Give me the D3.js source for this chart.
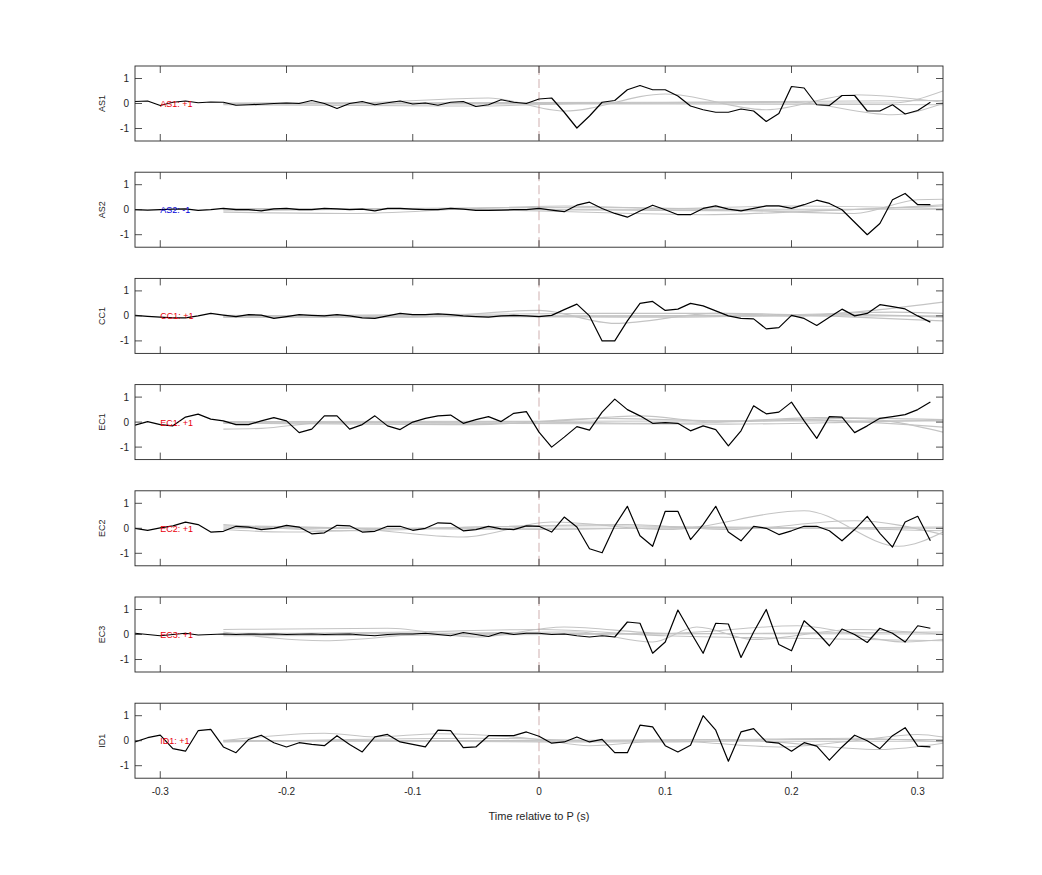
<!DOCTYPE html>
<html>
<head>
<meta charset="utf-8">
<script src="https://cdn.jsdelivr.net/npm/d3@7"></script>
<style>
html,body{margin:0;padding:0;background:#fff;}
svg{display:block;font-family:"Liberation Sans",Arial,Helvetica,sans-serif;}
</style>
</head>
<body>
<svg id="chart" width="1042" height="875"></svg>
<script>
// ---------- DATA ----------
const channels = ["AS1","AS2","CC1","EC1","EC2","EC3","ID1"];
const polarityLabels = ["AS1: +1","AS2: -1","CC1: +1","EC1: +1","EC2: +1","EC3: +1","ID1: +1"];
const polarityColors = ["#e8000b","#0000d8","#e8000b","#e8000b","#e8000b","#e8000b","#e8000b"];

const times = [-0.32,-0.31,-0.30,-0.29,-0.28,-0.27,-0.26,-0.25,-0.24,-0.23,-0.22,-0.21,-0.20,-0.19,-0.18,-0.17,
  -0.16,-0.15,-0.14,-0.13,-0.12,-0.11,-0.10,-0.09,-0.08,-0.07,-0.06,-0.05,-0.04,-0.03,-0.02,-0.01,
  0.00,0.01,0.02,0.03,0.04,0.05,0.06,0.07,0.08,0.09,0.10,0.11,0.12,0.13,0.14,0.15,
  0.16,0.17,0.18,0.19,0.20,0.21,0.22,0.23,0.24,0.25,0.26,0.27,0.28,0.29,0.30,0.31];

const traceAS1 = [0.08,0.10,-0.08,0.05,0.10,0.03,0.06,0.05,-0.07,-0.05,-0.03,0.00,0.02,0.00,0.12,0.00,
  -0.20,0.00,0.08,-0.05,0.03,0.10,-0.02,0.02,-0.07,0.05,0.08,-0.12,-0.05,0.15,0.05,0.00,
  0.18,0.22,-0.35,-0.98,-0.50,0.05,0.12,0.55,0.72,0.55,0.55,0.30,-0.10,-0.25,-0.35,-0.35,
  -0.22,-0.30,-0.72,-0.40,0.68,0.62,-0.05,-0.08,0.32,0.32,-0.30,-0.30,-0.05,-0.42,-0.28,0.05];
const traceAS2 = [0.00,-0.02,0.00,0.02,0.03,-0.03,0.00,0.05,0.00,0.00,-0.05,0.03,0.05,0.00,0.00,0.05,
  0.03,0.00,0.02,-0.05,0.05,0.05,0.02,0.00,0.00,0.05,0.02,-0.03,-0.03,-0.02,0.00,0.00,
  0.05,-0.02,-0.08,0.18,0.30,0.05,-0.15,-0.30,-0.05,0.18,0.00,-0.20,-0.20,0.05,0.15,0.02,
  -0.05,0.05,0.15,0.15,0.05,0.20,0.38,0.25,0.00,-0.50,-1.00,-0.55,0.40,0.65,0.20,0.20];
const traceCC1 = [0.02,-0.02,-0.05,-0.08,-0.08,0.00,0.10,0.03,-0.03,0.05,0.03,-0.10,-0.03,0.05,0.02,0.00,
  0.05,0.00,-0.08,-0.10,0.00,0.10,0.05,0.05,0.08,0.05,0.00,-0.03,-0.05,0.00,0.02,0.00,
  -0.03,0.02,0.25,0.47,0.00,-1.00,-1.00,-0.20,0.50,0.58,0.22,0.27,0.50,0.40,0.20,0.00,
  -0.10,-0.12,-0.52,-0.47,0.02,-0.10,-0.38,-0.05,0.27,0.00,0.10,0.45,0.37,0.28,0.00,-0.25];
const traceEC1 = [-0.12,0.02,-0.10,-0.15,0.20,0.32,0.12,0.05,-0.10,-0.10,0.05,0.18,0.05,-0.42,-0.28,0.25,
  0.25,-0.28,-0.10,0.25,-0.15,-0.30,0.00,0.15,0.25,0.28,-0.05,0.10,0.22,0.02,0.35,0.42,
  -0.40,-1.00,-0.60,-0.18,-0.32,0.40,0.92,0.50,0.25,-0.05,-0.02,-0.05,-0.35,-0.15,-0.30,-0.95,
  -0.35,0.65,0.33,0.40,0.80,0.05,-0.65,0.22,0.20,-0.42,-0.15,0.15,0.22,0.30,0.50,0.80];
const traceEC2 = [0.00,-0.08,0.02,0.10,0.25,0.15,-0.15,-0.12,0.08,0.05,-0.05,0.00,0.12,0.05,-0.22,-0.18,
  0.12,0.10,-0.15,-0.12,0.08,0.08,-0.08,0.00,0.22,0.20,-0.10,-0.05,0.08,-0.02,-0.05,0.10,
  0.08,-0.15,0.45,0.05,-0.82,-0.98,0.10,0.88,-0.30,-0.72,0.68,0.68,-0.45,0.15,0.88,-0.15,
  -0.50,0.08,0.00,-0.25,-0.10,0.08,0.08,-0.10,-0.50,-0.05,0.48,-0.20,-0.75,0.25,0.48,-0.50];
const traceEC3 = [0.05,0.00,-0.05,0.00,0.05,-0.02,0.00,0.02,0.00,0.02,0.01,0.02,0.00,0.01,0.02,0.00,
  0.01,0.02,-0.02,-0.05,0.00,0.02,0.02,0.05,0.00,-0.05,0.08,0.00,-0.08,0.08,0.00,0.05,
  0.05,0.00,0.02,-0.05,-0.10,-0.05,-0.10,0.50,0.45,-0.75,-0.30,0.98,0.10,-0.75,0.45,0.42,
  -0.92,0.10,1.00,-0.40,-0.65,0.55,0.10,-0.45,0.22,0.00,-0.32,0.25,0.05,-0.30,0.35,0.25];
const traceID1 = [-0.05,0.12,0.22,-0.32,-0.42,0.40,0.45,-0.25,-0.48,0.05,0.22,-0.08,-0.25,-0.08,-0.15,-0.20,
  0.20,-0.15,-0.45,0.15,0.25,-0.05,-0.15,-0.25,0.42,0.40,-0.28,-0.25,0.20,0.20,0.20,0.35,
  0.18,-0.10,-0.05,0.15,-0.05,0.05,-0.48,-0.48,0.62,0.55,-0.20,-0.45,-0.18,1.00,0.42,-0.82,
  0.35,0.48,-0.05,-0.10,-0.42,-0.08,-0.22,-0.78,-0.25,0.22,0.00,-0.32,0.20,0.52,-0.22,-0.25];

// grey comparison traces: knots [time, value]
const greyAS1 = [
  [[-0.25,0],[-0.15,0.02],[-0.04,0.22],[0.02,-0.3],[0.1,0.38],[0.18,-0.25],[0.25,0.35],[0.32,0.05]],
  [[-0.25,0],[0.0,0.0],[0.2,0.02],[0.28,0.02],[0.32,0.5]],
  [[-0.25,-0.05],[-0.05,-0.1],[0.05,0.02],[0.2,0.05],[0.28,-0.45],[0.32,0.0]],
  [[-0.25,0.02],[0.1,0.05],[0.25,0.1],[0.32,0.12]],
  [[-0.25,-0.02],[0.1,-0.02],[0.32,-0.05]]];
const greyAS2 = [
  [[-0.25,-0.1],[-0.15,-0.15],[-0.05,0.05],[0.02,0.15],[0.1,0.05],[0.2,0.15],[0.32,0.05]],
  [[-0.25,0.02],[-0.1,0.05],[0.0,-0.05],[0.13,-0.2],[0.22,-0.05],[0.32,0.15]],
  [[-0.25,-0.05],[0.05,0.1],[0.15,0.0],[0.25,-0.15],[0.3,0.4],[0.32,0.42]],
  [[-0.25,0.0],[0.1,0.02],[0.32,0.02]],
  [[-0.25,0.05],[0.0,0.0],[0.2,-0.05],[0.32,0.2]]];
const greyCC1 = [
  [[-0.25,-0.05],[-0.1,-0.05],[0.0,0.22],[0.06,-0.3],[0.14,0.1],[0.2,0.0],[0.27,0.25],[0.32,0.55]],
  [[-0.25,0.0],[0.05,0.1],[0.15,0.1],[0.25,-0.05],[0.32,-0.2]],
  [[-0.25,-0.05],[0.1,0.0],[0.2,0.05],[0.28,0.15],[0.32,0.1]],
  [[-0.25,0.0],[0.32,0.0]],
  [[-0.25,0.02],[0.1,-0.05],[0.25,0.05],[0.32,-0.05]]];
const greyEC1 = [
  [[-0.25,-0.28],[-0.22,-0.25],[-0.17,-0.02],[0.0,0.02],[0.08,0.25],[0.14,0.0],[0.25,0.15],[0.32,-0.4]],
  [[-0.25,-0.05],[-0.05,-0.1],[0.05,0.15],[0.15,0.05],[0.22,0.18],[0.32,0.1]],
  [[-0.25,0.0],[0.0,0.0],[0.1,-0.05],[0.2,0.1],[0.32,-0.2]],
  [[-0.25,0.02],[0.32,0.05]],
  [[-0.25,-0.02],[0.15,-0.08],[0.25,0.0],[0.32,0.08]]];
const greyEC2 = [
  [[-0.25,0.1],[-0.15,0.0],[-0.06,-0.35],[0.01,0.25],[0.1,-0.05],[0.21,0.7],[0.285,-0.72],[0.32,-0.15]],
  [[-0.25,0.15],[-0.15,-0.1],[-0.05,0.05],[0.07,0.15],[0.15,-0.05],[0.25,0.3],[0.32,-0.25]],
  [[-0.25,-0.05],[-0.2,-0.15],[-0.1,0.0],[0.05,0.1],[0.2,0.0],[0.32,0.05]],
  [[-0.25,0.0],[0.32,0.0]],
  [[-0.25,0.05],[0.0,-0.05],[0.15,0.05],[0.32,-0.1]]];
const greyEC3 = [
  [[-0.25,0.2],[-0.12,0.25],[-0.05,-0.1],[0.02,0.3],[0.1,0.05],[0.205,0.35],[0.29,-0.3],[0.32,-0.2]],
  [[-0.25,0.1],[-0.17,-0.25],[-0.08,0.05],[0.03,0.1],[0.09,-0.3],[0.125,0.3],[0.17,-0.2],[0.25,0.2],[0.32,0.0]],
  [[-0.25,0.0],[-0.1,0.1],[0.0,0.2],[0.1,-0.05],[0.2,-0.15],[0.32,-0.25]],
  [[-0.25,0.05],[0.32,0.02]],
  [[-0.25,-0.05],[0.1,0.02],[0.32,0.1]]];
const greyID1 = [
  [[-0.25,0.0],[-0.17,0.3],[-0.13,0.15],[-0.08,0.28],[0.0,0.05],[0.04,-0.2],[0.1,0.0],[0.19,-0.25],[0.25,0.0],[0.3,0.25],[0.32,0.15]],
  [[-0.25,-0.05],[-0.15,0.05],[-0.05,0.1],[0.05,0.02],[0.15,0.05],[0.27,-0.35],[0.32,-0.1]],
  [[-0.25,0.02],[0.0,-0.05],[0.1,-0.05],[0.2,0.05],[0.32,0.05]],
  [[-0.25,-0.02],[0.32,-0.02]],
  [[-0.25,0.0],[0.1,0.02],[0.25,0.1],[0.32,-0.05]]];

const xTicks = [-0.3,-0.2,-0.1,0,0.1,0.2,0.3];
const xTickLabels = ["-0.3","-0.2","-0.1","0","0.1","0.2","0.3"];
const yTicks = [-1,0,1];
const yTickLabels = ["-1","0","1"];
const xLabel = "Time relative to P (s)";

const traces = [traceAS1,traceAS2,traceCC1,traceEC1,traceEC2,traceEC3,traceID1];
const greys = [greyAS1,greyAS2,greyCC1,greyEC1,greyEC2,greyEC3,greyID1];

// ---------- LAYOUT ----------
const svg = d3.select("#chart");
const left = 135, right = 943, panelH = 75, firstTop = 66, step = 106.2;
const axisColor = "#262626";
const x = d3.scaleLinear().domain([-0.32,0.32]).range([left,right]);

channels.forEach((ch,i)=>{
  const top = firstTop + i*step, bottom = top + panelH;
  const y = d3.scaleLinear().domain([-1.5,1.5]).range([bottom,top]);
  const g = svg.append("g");
  const clipId = "clip"+i;
  svg.append("clipPath").attr("id",clipId).append("rect")
    .attr("x",left).attr("y",top).attr("width",right-left).attr("height",panelH);

  const plot = g.append("g").attr("clip-path",`url(#${clipId})`);

  // grey traces
  const gLine = d3.line().x(d=>x(d[0])).y(d=>y(d[1])).curve(d3.curveMonotoneX);
  greys[i].forEach(k=>{
    plot.append("path").attr("d",gLine(k)).attr("fill","none")
      .attr("stroke","#c4c4c4").attr("stroke-width",1.1);
  });

  // zero dashed marker
  plot.append("line").attr("x1",x(0)).attr("x2",x(0)).attr("y1",top).attr("y2",bottom)
    .attr("stroke","#b07a7a").attr("stroke-width",0.6).attr("stroke-dasharray","9,4");

  // black trace
  const bLine = d3.line().x((d,j)=>x(times[j])).y(d=>y(d));
  plot.append("path").attr("d",bLine(traces[i])).attr("fill","none")
    .attr("stroke","#000").attr("stroke-width",1.2).attr("stroke-linejoin","round");

  // polarity label
  g.append("text").attr("x",x(-0.3)).attr("y",y(0)+3.5)
    .attr("font-size",9).attr("fill",polarityColors[i]).text(polarityLabels[i]);

  // box
  g.append("rect").attr("x",left).attr("y",top).attr("width",right-left).attr("height",panelH)
    .attr("fill","none").attr("stroke",axisColor).attr("stroke-width",0.9);

  // x ticks (inward top & bottom)
  xTicks.forEach(t=>{
    g.append("line").attr("x1",x(t)).attr("x2",x(t)).attr("y1",bottom).attr("y2",bottom-7)
      .attr("stroke",axisColor).attr("stroke-width",0.8);
    g.append("line").attr("x1",x(t)).attr("x2",x(t)).attr("y1",top).attr("y2",top+7)
      .attr("stroke",axisColor).attr("stroke-width",0.8);
  });
  // y ticks (inward left & right)
  yTicks.forEach((v,k)=>{
    g.append("line").attr("x1",left).attr("x2",left+7).attr("y1",y(v)).attr("y2",y(v))
      .attr("stroke",axisColor).attr("stroke-width",0.8);
    g.append("line").attr("x1",right).attr("x2",right-7).attr("y1",y(v)).attr("y2",y(v))
      .attr("stroke",axisColor).attr("stroke-width",0.8);
    g.append("text").attr("x",left-6).attr("y",y(v)+3.5).attr("text-anchor","end")
      .attr("font-size",10).attr("fill",axisColor).text(yTickLabels[k]);
  });

  // y label
  g.append("text").attr("transform",`translate(${left-30},${y(0)}) rotate(-90)`)
    .attr("text-anchor","middle").attr("font-size",9).attr("fill",axisColor).text(ch);

  if(i === channels.length-1){
    xTicks.forEach((t,k)=>{
      g.append("text").attr("x",x(t)).attr("y",bottom+17).attr("text-anchor","middle")
        .attr("font-size",10).attr("fill",axisColor).text(xTickLabels[k]);
    });
    g.append("text").attr("x",(left+right)/2).attr("y",bottom+42).attr("text-anchor","middle")
      .attr("font-size",11).attr("fill",axisColor).text(xLabel);
  }
});
</script>
</body>
</html>
